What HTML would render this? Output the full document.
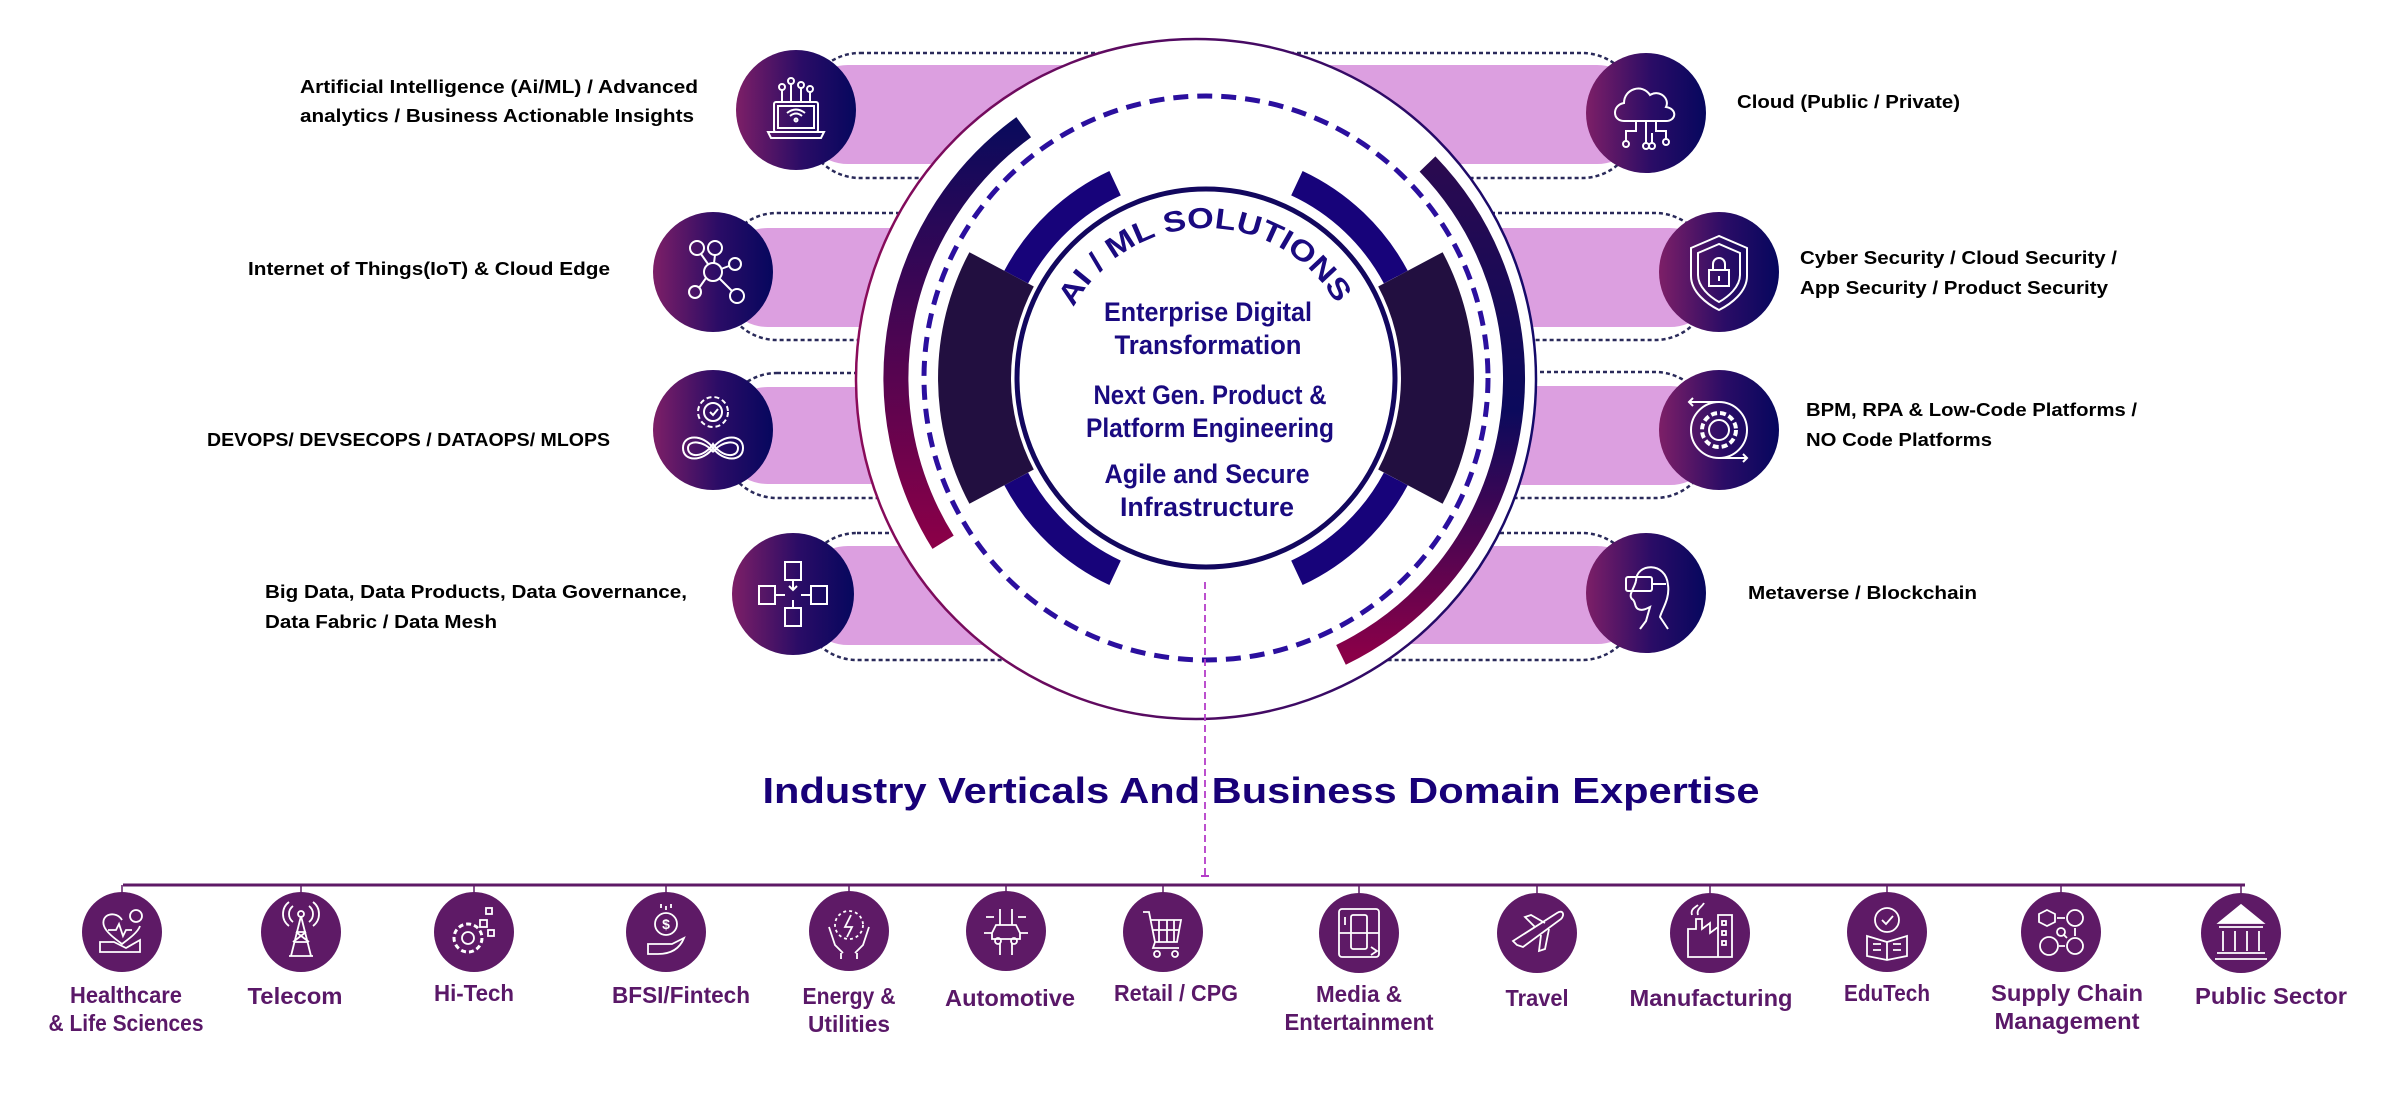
<!DOCTYPE html>
<html><head><meta charset="utf-8"><style>
html,body{margin:0;padding:0;background:#fff;}
svg{display:block;}
text{font-family:"Liberation Sans",sans-serif;font-weight:bold;}
</style></head><body>
<svg width="2400" height="1100" viewBox="0 0 2400 1100" xmlns="http://www.w3.org/2000/svg">
<defs>
<linearGradient id="ig" x1="0" y1="0" x2="1" y2="0"><stop offset="0" stop-color="#7d1f67"/><stop offset="0.55" stop-color="#2a0c66"/><stop offset="1" stop-color="#06075e"/></linearGradient>
<linearGradient id="oc" x1="0" y1="0" x2="1" y2="0"><stop offset="0" stop-color="#8a0b5a"/><stop offset="1" stop-color="#140a6a"/></linearGradient>
<linearGradient id="la" x1="0" y1="1" x2="0" y2="0"><stop offset="0" stop-color="#8a0048"/><stop offset="1" stop-color="#0b0a5c"/></linearGradient>
<linearGradient id="ra" x1="0" y1="0" x2="0" y2="1"><stop offset="0" stop-color="#2a0a50"/><stop offset="0.5" stop-color="#0b0a5c"/><stop offset="1" stop-color="#8a0048"/></linearGradient>
<path id="arcT" d="M 1073.6 307.6 A 150 150 0 0 1 1338.4 307.6"/>
</defs>

<!-- pills -->
<g fill="#dc9fe0">
<rect x="800" y="65" width="400" height="99" rx="48"/>
<rect x="720" y="228" width="300" height="99" rx="48"/>
<rect x="720" y="387" width="300" height="97" rx="48"/>
<rect x="800" y="546" width="400" height="99" rx="48"/>
<rect x="1220" y="65" width="425" height="99" rx="48"/>
<rect x="1400" y="228" width="318" height="99" rx="48"/>
<rect x="1400" y="386" width="318" height="99" rx="48"/>
<rect x="1220" y="546" width="425" height="98" rx="48"/>
</g>
<g fill="none" stroke="#2a2a5a" stroke-width="2.5" stroke-dasharray="4 3">
<rect x="805" y="53" width="420" height="125" rx="55"/>
<rect x="722" y="213" width="330" height="127" rx="55"/>
<rect x="722" y="373" width="330" height="125" rx="55"/>
<rect x="802" y="533" width="420" height="127" rx="55"/>
<rect x="1200" y="53" width="437" height="125" rx="55"/>
<rect x="1380" y="213" width="330" height="127" rx="55"/>
<rect x="1380" y="372" width="330" height="126" rx="55"/>
<rect x="1200" y="533" width="437" height="127" rx="55"/>
</g>

<!-- outer circle -->
<circle cx="1196" cy="379" r="340" fill="#fff" stroke="url(#oc)" stroke-width="2.5"/>
<!-- outer gradient arcs -->
<path d="M 943.1 542.3 A 310 310 0 0 1 1023.7 127.2" fill="none" stroke="url(#la)" stroke-width="25"/>
<path d="M 1427.5 164 A 308 308 0 0 1 1341 654.9" fill="none" stroke="url(#ra)" stroke-width="22"/>
<!-- dashed circle -->
<circle cx="1206" cy="378" r="282" fill="none" stroke="#2b0f9e" stroke-width="5" stroke-dasharray="15 9"/>
<!-- inner blue arcs -->
<g fill="none" stroke="#17037a" stroke-width="27">
<path d="M 1016.2 277.1 A 215 215 0 0 1 1115.1 183.2"/>
<path d="M 1296.9 183.2 A 215 215 0 0 1 1395.8 277.1"/>
<path d="M 1395.8 478.9 A 215 215 0 0 1 1296.9 572.8"/>
<path d="M 1115.1 572.8 A 215 215 0 0 1 1016.2 478.9"/>
</g>
<!-- dark blocks -->
<path d="M 969.4 252.2 A 268 268 0 0 0 969.4 503.8 L 1033.8 469.5 A 195 195 0 0 1 1033.8 286.5 Z" fill="#220f40"/>
<path d="M 1442.6 252.2 A 268 268 0 0 1 1442.6 503.8 L 1378.2 469.5 A 195 195 0 0 0 1378.2 286.5 Z" fill="#220f40"/>
<!-- inner circle -->
<circle cx="1206" cy="378" r="189" fill="#fff" stroke="#12075e" stroke-width="5"/>
<text font-size="29" fill="#1a0a80" textLength="320"><textPath href="#arcT" textLength="320" lengthAdjust="spacingAndGlyphs">AI / ML SOLUTIONS</textPath></text>
<g fill="#1a0a80" font-size="27" text-anchor="middle">
<text x="1208" y="321" textLength="208" lengthAdjust="spacingAndGlyphs">Enterprise Digital</text>
<text x="1208" y="354" textLength="187" lengthAdjust="spacingAndGlyphs">Transformation</text>
<text x="1210" y="404" textLength="233" lengthAdjust="spacingAndGlyphs">Next Gen. Product &amp;</text>
<text x="1210" y="437" textLength="248" lengthAdjust="spacingAndGlyphs">Platform Engineering</text>
<text x="1207" y="483" textLength="205" lengthAdjust="spacingAndGlyphs">Agile and Secure</text>
<text x="1207" y="516" textLength="174" lengthAdjust="spacingAndGlyphs">Infrastructure</text>
</g>

<!-- icon circles -->
<g fill="url(#ig)">
<circle cx="796" cy="110" r="60"/>
<circle cx="713" cy="272" r="60"/>
<circle cx="713" cy="430" r="60"/>
<circle cx="793" cy="594" r="61"/>
<circle cx="1646" cy="113" r="60"/>
<circle cx="1719" cy="272" r="60"/>
<circle cx="1719" cy="430" r="60"/>
<circle cx="1646" cy="593" r="60"/>
</g>
<g fill="none" stroke="#fff" stroke-width="2">
<!-- AI laptop -->
<g transform="translate(796,110)">
<rect x="-22" y="-8" width="44" height="30" rx="2"/><rect x="-18" y="-4" width="36" height="22"/>
<path d="M-28 22 H28 L25 28 H-25 Z"/>
<path d="M-6 6 Q0 1 6 6 M-9 3 Q0 -4 9 3"/><circle cx="0" cy="10" r="1.5"/>
<path d="M-14 -8 V-20 M-5 -8 V-26 M5 -8 V-22 M14 -8 V-18"/>
<circle cx="-14" cy="-23" r="3"/><circle cx="-5" cy="-29" r="3"/><circle cx="5" cy="-25" r="3"/><circle cx="14" cy="-21" r="3"/>
</g>
<!-- IoT -->
<g transform="translate(713,272)">
<circle cx="0" cy="0" r="9"/>
<circle cx="-16" cy="-24" r="7"/><circle cx="2" cy="-24" r="7"/><circle cx="22" cy="-8" r="6"/><circle cx="-18" cy="20" r="6"/><circle cx="24" cy="24" r="7"/>
<path d="M-5 -8 L-12 -18 M1 -9 L2 -17 M8 -3 L16 -6 M-7 6 L-14 16 M6 6 L19 19"/>
</g>
<!-- devops -->
<g transform="translate(713,430)">
<circle cx="0" cy="-18" r="9"/><circle cx="0" cy="-18" r="15" stroke-dasharray="5 3"/>
<path d="M-3 -18 l3 3 l5 -6"/>
<path d="M0 18 C-10 4 -30 4 -30 18 C-30 32 -10 32 0 18 C10 4 30 4 30 18 C30 32 10 32 0 18 Z"/>
<path d="M0 22 C-9 10 -25 10 -25 18 C-25 28 -9 28 0 14 C9 28 25 28 25 18 C25 10 9 10 0 22"/>
</g>
<!-- blocks -->
<g transform="translate(793,594)">
<rect x="-8" y="-32" width="16" height="18"/><rect x="-34" y="-8" width="16" height="18"/><rect x="18" y="-8" width="16" height="18"/><rect x="-8" y="14" width="16" height="18"/>
<path d="M0 -14 V-4 M-18 1 H-8 M8 1 H18 M0 6 V14 M-4 -8 L0 -4 L4 -8"/>
</g>
<!-- cloud -->
<g transform="translate(1646,113)">
<path d="M-22 8 C-34 8 -34 -8 -22 -10 C-22 -24 -4 -30 4 -18 C14 -24 24 -14 20 -6 C32 -4 30 8 20 8 Z"/>
<path d="M-10 8 V18 H-20 V28 M0 8 V30 M10 8 V18 H20 V26 M6 20 V30"/>
<circle cx="-20" cy="31" r="3"/><circle cx="0" cy="33" r="3"/><circle cx="20" cy="29" r="3"/><circle cx="6" cy="33" r="3"/>
</g>
<!-- shield -->
<g transform="translate(1719,272)">
<path d="M0 -36 L-28 -24 V4 C-28 20 -12 32 0 38 C12 32 28 20 28 4 V-24 Z"/>
<path d="M0 -28 L-21 -19 V3 C-21 15 -9 25 0 30 C9 25 21 15 21 3 V-19 Z"/>
<rect x="-10" y="-2" width="20" height="16"/><path d="M-6 -2 V-8 A6 6 0 0 1 6 -8 V-2"/><path d="M0 4 V9"/>
</g>
<!-- BPM -->
<g transform="translate(1719,430)">
<circle cx="0" cy="0" r="28"/><circle cx="0" cy="0" r="10"/><circle cx="0" cy="0" r="17" stroke-dasharray="6 3" stroke-width="4"/>
<path d="M0 -28 H-30 M-26 -32 L-30 -28 L-26 -24 M0 28 H28 M24 24 L28 28 L24 32"/>
</g>
<!-- VR head -->
<g transform="translate(1646,593)">
<path d="M-10 -12 C-10 -30 20 -32 22 -8 C24 6 16 16 14 24 L22 36"/>
<path d="M-10 -12 C-12 -4 -18 2 -14 6 C-10 8 -12 14 -8 16 C-4 18 0 16 4 14 L0 28 L-6 36"/>
<rect x="-20" y="-16" width="26" height="14" rx="2"/><path d="M6 -9 H20"/>
</g>
</g>

<!-- side labels -->
<g fill="#000" font-size="18">
<text x="300" y="93" textLength="398" lengthAdjust="spacingAndGlyphs">Artificial Intelligence (Ai/ML) / Advanced</text>
<text x="300" y="122" textLength="394" lengthAdjust="spacingAndGlyphs">analytics / Business Actionable Insights</text>
<text x="248" y="275" textLength="362" lengthAdjust="spacingAndGlyphs">Internet of Things(IoT) &amp; Cloud Edge</text>
<text x="207" y="446" textLength="403" lengthAdjust="spacingAndGlyphs">DEVOPS/ DEVSECOPS / DATAOPS/ MLOPS</text>
<text x="265" y="598" textLength="422" lengthAdjust="spacingAndGlyphs">Big Data, Data Products, Data Governance,</text>
<text x="265" y="628" textLength="232" lengthAdjust="spacingAndGlyphs">Data Fabric / Data Mesh</text>
<text x="1737" y="108" textLength="223" lengthAdjust="spacingAndGlyphs">Cloud (Public / Private)</text>
<text x="1800" y="264" textLength="317" lengthAdjust="spacingAndGlyphs">Cyber Security / Cloud Security /</text>
<text x="1800" y="294" textLength="308" lengthAdjust="spacingAndGlyphs">App Security / Product Security</text>
<text x="1806" y="416" textLength="331" lengthAdjust="spacingAndGlyphs">BPM, RPA &amp; Low-Code Platforms /</text>
<text x="1806" y="446" textLength="186" lengthAdjust="spacingAndGlyphs">NO Code Platforms</text>
<text x="1748" y="599" textLength="229" lengthAdjust="spacingAndGlyphs">Metaverse / Blockchain</text>
</g>

<!-- vertical dashed line -->
<line x1="1205" y1="582" x2="1205" y2="876" stroke="#b43cc8" stroke-width="1.8" stroke-dasharray="7 4"/>
<line x1="1201" y1="876" x2="1209" y2="876" stroke="#b43cc8" stroke-width="2"/>

<!-- title -->
<text x="1261" y="803" font-size="36" fill="#180078" text-anchor="middle" textLength="997" lengthAdjust="spacingAndGlyphs">Industry Verticals And Business Domain Expertise</text>

<!-- bottom line -->
<line x1="123" y1="885" x2="2245" y2="885" stroke="#5e1a66" stroke-width="3"/>
<g stroke="#5e1a66" stroke-width="1.5">
<path d="M122 885V893M301 885V893M474 885V893M666 885V893M849 885V893M1006 885V893M1163 885V893M1359 885V893M1537 885V893M1710 885V893M1887 885V893M2061 885V893M2241 885V893"/>
</g>
<g fill="#5e1a66">
<circle cx="122" cy="932" r="40"/><circle cx="301" cy="932" r="40"/><circle cx="474" cy="932" r="40"/><circle cx="666" cy="932" r="40"/><circle cx="849" cy="931" r="40"/><circle cx="1006" cy="931" r="40"/><circle cx="1163" cy="932" r="40"/><circle cx="1359" cy="933" r="40"/><circle cx="1537" cy="933" r="40"/><circle cx="1710" cy="933" r="40"/><circle cx="1887" cy="932" r="40"/><circle cx="2061" cy="932" r="40"/><circle cx="2241" cy="933" r="40"/>
</g>
<g fill="none" stroke="#fff" stroke-width="1.8">
<g transform="translate(122,932)"><path d="M0 -12 C-6 -22 -22 -18 -18 -6 C-16 0 -8 6 0 12 C8 6 16 0 18 -6"/><circle cx="14" cy="-16" r="6"/><path d="M-14 -2 H-6 L-3 -8 L1 4 L4 -2 H10 M-22 10 H-8 L4 16 L18 8 V20 H-22 Z"/></g>
<g transform="translate(301,932)"><path d="M0 -16 L-10 24 M0 -16 L10 24 M-7 10 L7 10 M-5 0 L5 0 M-12 24 H12 M-8 10 L5 0 M8 10 L-5 0"/><circle cx="0" cy="-18" r="3"/><path d="M-8 -26 A10 10 0 0 0 -8 -10 M8 -26 A10 10 0 0 1 8 -10 M-12 -30 A15 15 0 0 0 -12 -6 M12 -30 A15 15 0 0 1 12 -6"/></g>
<g transform="translate(474,932)"><circle cx="-6" cy="6" r="14" stroke-dasharray="5 3" stroke-width="3"/><circle cx="-6" cy="6" r="6"/><rect x="6" y="-12" width="7" height="7"/><rect x="12" y="-24" width="6" height="6"/><rect x="14" y="-2" width="6" height="6"/></g>
<g transform="translate(666,932)"><circle cx="0" cy="-8" r="11"/><text x="0" y="-3" font-size="14" fill="#fff" stroke="none" text-anchor="middle">$</text><path d="M0 -26 V-22 M-5 -28 V-24 M5 -28 V-24 M-18 12 H-8 L6 12 C10 10 14 8 18 6 C14 16 6 22 -8 22 H-18 Z"/></g>
<g transform="translate(849,931)"><circle cx="0" cy="-6" r="14" stroke-dasharray="3 3"/><path d="M2 -16 L-4 -4 H3 L-2 6"/><path d="M-20 -4 L-14 14 L-6 22 M20 -4 L14 14 L6 22 M-8 22 V28 M8 22 V28"/></g>
<g transform="translate(1006,931)"><path d="M-14 2 L-10 -6 H10 L14 2 V8 H-14 Z"/><circle cx="-8" cy="10" r="3"/><circle cx="8" cy="10" r="3"/><path d="M-6 -6 V-22 M6 -6 V-22 M-6 12 V24 M6 12 V24 M-14 2 H-22 M14 2 H22 M-12 -14 H-20 M12 -14 H20"/></g>
<g transform="translate(1163,932)"><path d="M-20 -20 H-14 L-8 10 H14 L18 -12 H-12 M-10 -2 H16 M-4 -12 V10 M4 -12 V10 M11 -12 V10 M-8 10 L-10 16 H16"/><circle cx="-6" cy="22" r="3"/><circle cx="12" cy="22" r="3"/></g>
<g transform="translate(1359,933)"><rect x="-20" y="-24" width="40" height="48" rx="3"/><rect x="-8" y="-18" width="16" height="34" rx="2"/><path d="M-20 0 H20 M-14 -16 V-8 M12 14 L18 18 L12 22"/></g>
<g transform="translate(1537,933)"><path d="M-24 8 L20 -20 C26 -24 28 -18 24 -14 L-14 14 L-20 12 Z M-2 -6 L-12 -16 L-6 -18 L8 -10 M4 2 L2 18 L8 16 L12 -4"/></g>
<g transform="translate(1710,933)"><path d="M-22 24 V-4 H-14 V-14 H-8 V-4 L0 -10 V0 L8 -6 V24 Z M8 -6 V-18 H22 V24 H8"/><rect x="12" y="-12" width="4" height="4"/><rect x="12" y="-2" width="4" height="4"/><rect x="12" y="8" width="4" height="4"/><path d="M-12 -18 C-14 -24 -8 -26 -6 -30 M-18 -18 C-20 -24 -14 -26 -12 -28"/></g>
<g transform="translate(1887,932)"><path d="M-20 4 L0 10 L20 4 V24 L0 28 L-20 24 Z M0 10 V28"/><circle cx="0" cy="-12" r="12"/><path d="M-5 -12 L-1 -8 L6 -16 M-14 12 H-6 M-14 18 H-6 M6 12 H14 M6 18 H14"/></g>
<g transform="translate(2061,932)"><path d="M-14 -22 L-6 -18 V-10 L-14 -6 L-22 -10 V-18 Z"/><circle cx="14" cy="-14" r="8"/><circle cx="-12" cy="14" r="9"/><circle cx="14" cy="14" r="8"/><circle cx="0" cy="0" r="4"/><path d="M-4 -14 H4 M14 -4 V4 M-2 14 H4 M3 3 L6 6"/></g>
<g transform="translate(2241,933)"><path d="M-22 -10 L0 -28 L22 -10 Z" fill="#fff"/><path d="M-22 -6 H22 M-18 -2 V18 M-6 -2 V18 M6 -2 V18 M18 -2 V18 M-24 20 H24 M-26 26 H26"/></g>
</g>
<g fill="#5a1868" font-size="23" text-anchor="middle">
<text x="126" y="1003" textLength="112" lengthAdjust="spacingAndGlyphs">Healthcare</text>
<text x="126" y="1031" textLength="155" lengthAdjust="spacingAndGlyphs">&amp; Life Sciences</text>
<text x="295" y="1004" textLength="95" lengthAdjust="spacingAndGlyphs">Telecom</text>
<text x="474" y="1001" textLength="80" lengthAdjust="spacingAndGlyphs">Hi-Tech</text>
<text x="681" y="1003" textLength="138" lengthAdjust="spacingAndGlyphs">BFSI/Fintech</text>
<text x="849" y="1004" textLength="93" lengthAdjust="spacingAndGlyphs">Energy &amp;</text>
<text x="849" y="1032" textLength="82" lengthAdjust="spacingAndGlyphs">Utilities</text>
<text x="1010" y="1006" textLength="130" lengthAdjust="spacingAndGlyphs">Automotive</text>
<text x="1176" y="1001" textLength="124" lengthAdjust="spacingAndGlyphs">Retail / CPG</text>
<text x="1359" y="1002" textLength="86" lengthAdjust="spacingAndGlyphs">Media &amp;</text>
<text x="1359" y="1030" textLength="149" lengthAdjust="spacingAndGlyphs">Entertainment</text>
<text x="1537" y="1006" textLength="63" lengthAdjust="spacingAndGlyphs">Travel</text>
<text x="1711" y="1006" textLength="163" lengthAdjust="spacingAndGlyphs">Manufacturing</text>
<text x="1887" y="1001" textLength="86" lengthAdjust="spacingAndGlyphs">EduTech</text>
<text x="2067" y="1001" textLength="152" lengthAdjust="spacingAndGlyphs">Supply Chain</text>
<text x="2067" y="1029" textLength="145" lengthAdjust="spacingAndGlyphs">Management</text>
<text x="2271" y="1004" textLength="152" lengthAdjust="spacingAndGlyphs">Public Sector</text>
</g>
</svg>
</body></html>
